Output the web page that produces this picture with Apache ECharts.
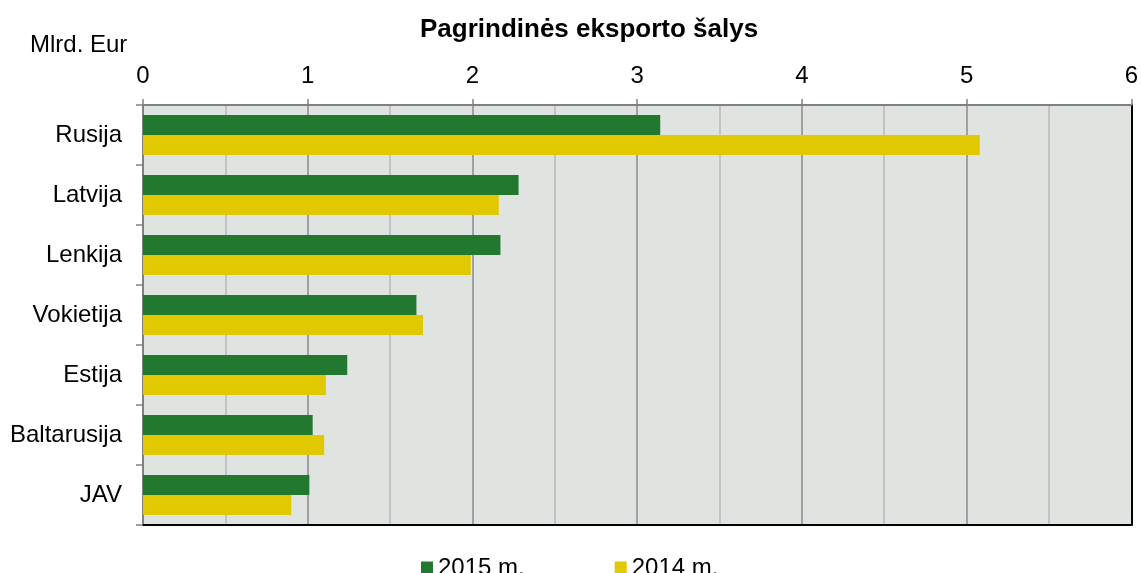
<!DOCTYPE html>
<html>
<head>
<meta charset="utf-8">
<script src="https://cdn.jsdelivr.net/npm/echarts@6/dist/echarts.min.js"></script>
<style>
  html, body { margin: 0; padding: 0; background: #fff; }
  #chart { width: 1141px; height: 573px; }
</style>
</head>
<body>
<div id="chart"></div>
<script>
// šalys, iš viršaus į apačią
const countries = ['Rusija', 'Latvija', 'Lenkija', 'Vokietija', 'Estija', 'Baltarusija', 'JAV']
const exports2015 = [3.14, 2.28, 2.17, 1.66, 1.24, 1.03, 1.01]
const exports2014 = [5.08, 2.16, 1.99, 1.70, 1.11, 1.10, 0.90]

const GREEN = '#237830'
const YELLOW = '#E0C900'
const FONT = '"Liberation Sans", Arial, sans-serif'

const chart = echarts.init(document.getElementById('chart'))

chart.setOption({
  animation: false,
  backgroundColor: '#fff',
  textStyle: { fontFamily: FONT },
  title: {
    text: 'Pagrindinės eksporto šalys',
    left: 420,
    top: 17,
    padding: 0,
    textStyle: { fontFamily: FONT, fontSize: 26, fontWeight: 'bold', color: '#000' },
  },
  graphic: [{
    type: 'text',
    left: 30,
    top: 33,
    style: { text: 'Mlrd. Eur', fontFamily: FONT, fontSize: 24, fill: '#000' },
  }],
  legend: {
    left: 421,
    top: 556,
    padding: 0,
    icon: 'rect',
    itemWidth: 12,
    itemHeight: 13,
    itemGap: 90,
    textStyle: { fontFamily: FONT, fontSize: 24, color: '#000' },
    data: ['2015 m.', '2014 m.'],
  },
  grid: {
    left: 143,
    right: 9,
    top: 105,
    bottom: 48,
    show: true,
    backgroundColor: '#E0E4E0',
    borderWidth: 0,
  },
  xAxis: [
    {
      type: 'value',
      position: 'top',
      min: 0,
      max: 6,
      interval: 1,
      axisLine: { show: true, lineStyle: { color: '#808080', width: 2 } },
      axisTick: { show: true, inside: false, length: 6, lineStyle: { color: '#808080', width: 1.5 } },
      axisLabel: { fontFamily: FONT, fontSize: 24, color: '#000', margin: 17 },
      splitLine: { show: true, lineStyle: { color: '#8A8A8A', width: 1.5 } },
      minorTick: { show: false, splitNumber: 2 },
      minorSplitLine: { show: true, lineStyle: { color: '#B8B8B8', width: 1.5 } },
    },
    {
      type: 'value',
      position: 'bottom',
      min: 0,
      max: 6,
      axisLine: { show: true, onZero: false, lineStyle: { color: '#000', width: 2 } },
      axisTick: { show: false },
      axisLabel: { show: false },
      splitLine: { show: false },
    },
  ],
  yAxis: [
    {
      type: 'category',
      inverse: true,
      data: countries,
      axisLine: { show: true, lineStyle: { color: '#808080', width: 2 } },
      axisTick: { show: true, length: 7, lineStyle: { color: '#808080', width: 1.5 } },
      axisLabel: { fontFamily: FONT, fontSize: 24, color: '#000', margin: 21 },
    },
    {
      type: 'category',
      inverse: true,
      position: 'right',
      data: countries,
      axisLine: { show: true, onZero: false, lineStyle: { color: '#000', width: 2 } },
      axisTick: { show: false },
      axisLabel: { show: false },
    },
  ],
  series: [
    {
      name: '2015 m.',
      type: 'bar',
      data: exports2015,
      itemStyle: { color: GREEN },
      barGap: '0%',
      barCategoryGap: '33%',
    },
    {
      name: '2014 m.',
      type: 'bar',
      data: exports2014,
      itemStyle: { color: YELLOW },
      barGap: '0%',
      barCategoryGap: '33%',
    },
  ],
})
</script>
</body>
</html>
